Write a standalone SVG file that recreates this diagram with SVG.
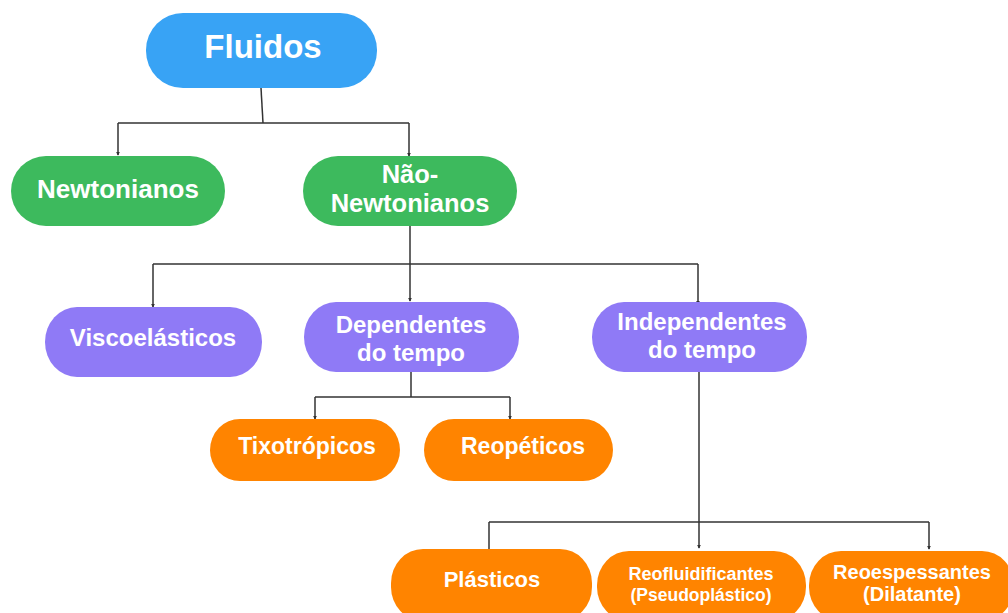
<svg xmlns="http://www.w3.org/2000/svg" width="1008" height="613" viewBox="0 0 1008 613">
<style>
.t{font-family:"Liberation Sans",Arial,sans-serif;font-weight:bold;fill:#ffffff;text-anchor:middle}
.blue{fill:#38A3F5}
.green{fill:#3DBA5D}
.purple{fill:#8F7AF6}
.orange{fill:#FF8400}
.c{fill:none;stroke:#333333;stroke-width:1.5}
</style>
<defs>
<marker id="a" viewBox="0 0 6 6" refX="5" refY="3" markerWidth="4" markerHeight="4" orient="auto" markerUnits="userSpaceOnUse">
<path d="M0,0 L6,3 L0,6 z" fill="#333333"/>
</marker>
</defs>
<rect width="1008" height="613" fill="#ffffff"/>
<g id="connectors">
<path class="c" d="M261,88 L263,123"/>
<path class="c" d="M118,123 H409"/>
<path class="c" d="M118,123 V155" marker-end="url(#a)"/>
<path class="c" d="M409,123 V156" marker-end="url(#a)"/>
<path class="c" d="M410,226 V301" marker-end="url(#a)"/>
<path class="c" d="M153,264 H698"/>
<path class="c" d="M153,264 V307" marker-end="url(#a)"/>
<path class="c" d="M698,264 V304" marker-end="url(#a)"/>
<path class="c" d="M411,372 V397"/>
<path class="c" d="M315,397 H510"/>
<path class="c" d="M315,397 V419" marker-end="url(#a)"/>
<path class="c" d="M510,397 V419" marker-end="url(#a)"/>
<path class="c" d="M699,372 V548" marker-end="url(#a)"/>
<path class="c" d="M489,522 H929"/>
<path class="c" d="M489,522 V549"/>
<path class="c" d="M929,522 V549" marker-end="url(#a)"/>
</g>
<g id="fluidos">
<rect class="blue" x="146" y="13" width="231" height="75" rx="37" ry="37"/>
<text class="t" x="263" y="58" font-size="33">Fluidos</text>
</g>
<g id="newtonianos">
<rect class="green" x="11" y="156" width="214" height="70" rx="35" ry="35"/>
<text class="t" x="118" y="198" font-size="26">Newtonianos</text>
</g>
<g id="nao-newtonianos">
<rect class="green" x="303" y="156" width="214" height="70" rx="35" ry="35"/>
<text class="t" x="410" y="183" font-size="25.5">Não-</text>
<text class="t" x="410" y="212" font-size="25.5">Newtonianos</text>
</g>
<g id="viscoelasticos">
<rect class="purple" x="45" y="307" width="217" height="70" rx="32" ry="35"/>
<text class="t" x="153" y="346" font-size="24">Viscoelásticos</text>
</g>
<g id="dependentes">
<rect class="purple" x="304" y="302" width="215" height="70" rx="32" ry="35"/>
<text class="t" x="411" y="333" font-size="24">Dependentes</text>
<text class="t" x="411" y="361" font-size="24">do tempo</text>
</g>
<g id="independentes">
<rect class="purple" x="592" y="302" width="215" height="70" rx="32" ry="35"/>
<text class="t" x="702" y="330" font-size="24">Independentes</text>
<text class="t" x="702" y="358" font-size="24">do tempo</text>
</g>
<g id="tixotropicos">
<rect class="orange" x="210" y="419" width="190" height="62" rx="30" ry="31"/>
<text class="t" x="307" y="454" font-size="23">Tixotrópicos</text>
</g>
<g id="reopeticos">
<rect class="orange" x="424" y="419" width="189" height="62" rx="30" ry="31"/>
<text class="t" x="523" y="454" font-size="23">Reopéticos</text>
</g>
<g id="plasticos">
<rect class="orange" x="391" y="549" width="201" height="72" rx="32" ry="34"/>
<text class="t" x="492" y="587" font-size="22">Plásticos</text>
</g>
<g id="reofluidificantes">
<rect class="orange" x="597" y="551" width="209" height="70" rx="32" ry="34"/>
<text class="t" x="701" y="580" font-size="18">Reofluidificantes</text>
<text class="t" x="701" y="601" font-size="17.5">(Pseudoplástico)</text>
</g>
<g id="reoespessantes">
<rect class="orange" x="809" y="551" width="205" height="70" rx="32" ry="34"/>
<text class="t" x="912" y="579" font-size="20">Reoespessantes</text>
<text class="t" x="912" y="601" font-size="20">(Dilatante)</text>
</g>
</svg>
